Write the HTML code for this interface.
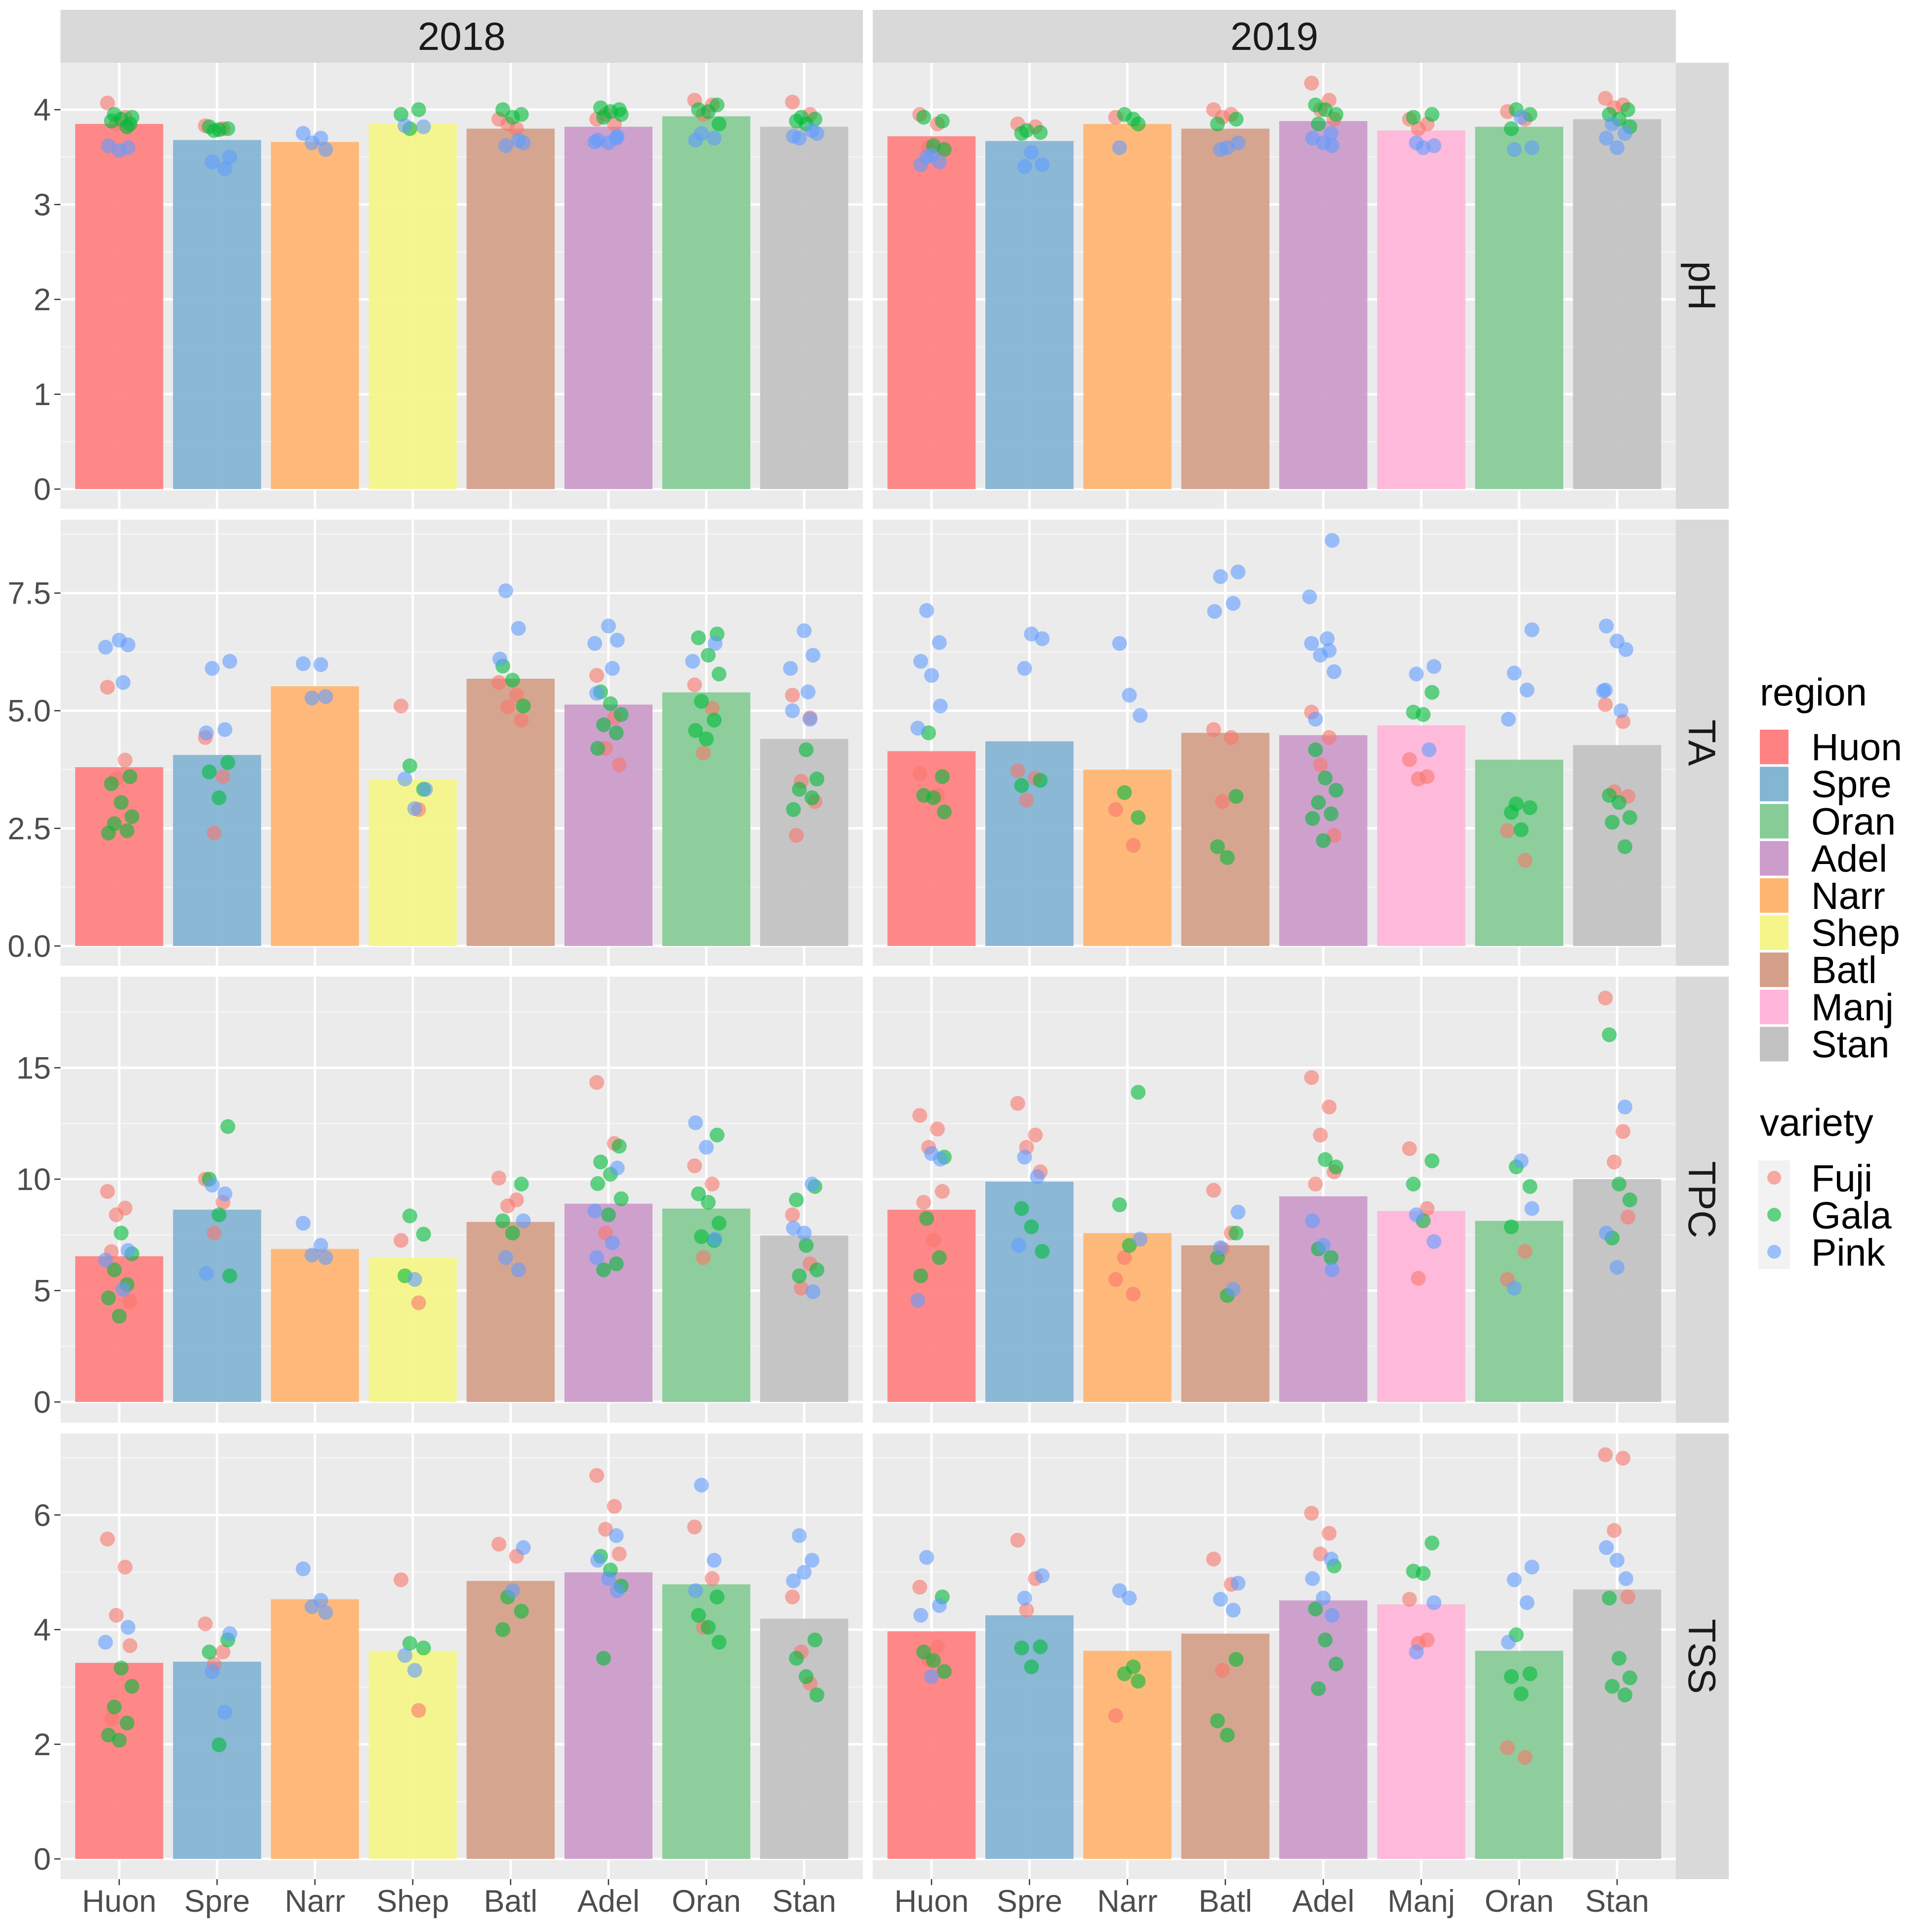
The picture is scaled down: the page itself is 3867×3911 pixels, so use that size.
<!DOCTYPE html>
<html><head><meta charset="utf-8"><style>
html,body{margin:0;padding:0;background:#fff}
svg{display:block;font-family:"Liberation Sans",Arial,sans-serif}
</style></head><body>
<svg id="chart" xmlns="http://www.w3.org/2000/svg" width="3867" height="3911" viewBox="0 0 3867 3911">
<rect x="0" y="0" width="3867" height="3911" fill="#ffffff"/>
<g id="panels"></g>
<g id="legend">
  <text x="3563" y="1428" font-size="78" fill="#000">region</text>
  <text x="3563" y="2299" font-size="78" fill="#000">variety</text>
  <rect x="3560" y="2349" width="64" height="220" fill="#f2f2f2"/>
</g>
</svg>
<script>
const years = ["2018", "2019"];
const metrics = ["pH", "TA", "TPC", "TSS"];
const regions2018 = ["Huon","Spre","Narr","Shep","Batl","Adel","Oran","Stan"];
const regions2019 = ["Huon","Spre","Narr","Batl","Adel","Manj","Oran","Stan"];
const legendRegions = ["Huon","Spre","Oran","Adel","Narr","Shep","Batl","Manj","Stan"];
const varieties = ["Fuji","Gala","Pink"];

const phBars2018 = [3.85,3.68,3.66,3.85,3.80,3.82,3.93,3.82];
const phBars2019 = [3.72,3.67,3.85,3.80,3.88,3.78,3.82,3.90];
const taBars2018 = [3.80,4.06,5.52,3.54,5.68,5.13,5.39,4.40];
const taBars2019 = [4.14,4.35,3.75,4.53,4.48,4.69,3.96,4.27];
const tpcBars2018 = [6.54,8.63,6.87,6.48,8.08,8.90,8.68,7.47];
const tpcBars2019 = [8.63,9.89,7.58,7.03,9.23,8.57,8.13,10.0];
const tssBars2018 = [3.42,3.44,4.53,3.63,4.85,5.00,4.79,4.19];
const tssBars2019 = [3.97,4.25,3.63,3.93,4.51,4.44,3.63,4.70];

const phPts2018 = [
 "F 4.07 3.92 3.85; G 3.85 3.88 3.9 3.92 3.95 3.82; P 3.62 3.57 3.6",
 "F 3.83 3.8; G 3.78 3.8 3.82 3.79; P 3.5 3.45 3.38",
 "P 3.75 3.7 3.65 3.58",
 "G 3.95 4.0 3.8; P 3.82 3.83",
 "F 3.9 3.8 3.85; G 3.95 4.0 3.92; P 3.65 3.62 3.68",
 "F 3.9 3.85 3.95; G 4.0 4.02 3.98 3.95 3.92; P 3.7 3.68 3.65 3.72 3.66",
 "F 4.1 4.05 3.95; G 4.05 4.0 3.98 3.85; P 3.75 3.7 3.68",
 "F 4.08 3.95; G 3.92 3.9 3.88 3.85; P 3.75 3.7 3.78 3.72"];
const phPts2019 = [
 "F 3.95 3.85 3.6; G 3.88 3.92 3.62 3.58; P 3.5 3.45 3.42 3.52",
 "F 3.85 3.82; G 3.78 3.76 3.75; P 3.55 3.42 3.4",
 "F 3.92; G 3.9 3.95 3.85; P 3.6",
 "F 4.0 3.95 3.92; G 3.9 3.85; P 3.6 3.65 3.58",
 "F 4.28 4.1 4.0 3.9; G 4.05 4.0 3.95 3.85; P 3.75 3.7 3.65 3.62",
 "F 3.9 3.85 3.8; G 3.95 3.92; P 3.6 3.62 3.65",
 "F 3.98 3.9; G 4.0 3.95 3.8; P 3.92 3.6 3.58",
 "F 4.12 4.05 4.02; G 4.0 3.95 3.9 3.82; P 3.85 3.75 3.7 3.6"];
const taPts2018 = [
 "F 5.5 3.95 3.55; G 3.6 3.45 3.05 2.75 2.6 2.45 2.4; P 6.5 6.4 6.35 5.6",
 "F 4.43 3.6 2.4; G 3.9 3.7 3.15; P 6.05 5.9 4.6 4.53",
 "P 6.0 5.98 5.27 5.3",
 "F 5.1 2.9; G 3.83 3.33; P 3.55 2.92 3.33",
 "F 5.6 5.33 5.08 4.8; G 5.95 5.65 5.1; P 7.55 6.75 6.1",
 "F 5.75 4.85 4.2 3.85; G 5.4 5.15 4.92 4.7 4.53 4.2; P 6.8 6.5 6.43 5.9 5.37",
 "F 5.55 5.05 4.1; G 6.63 6.55 6.18 5.78 5.2 4.8 4.58 4.4; P 6.43 6.05",
 "F 5.33 4.85 3.5 3.07 2.35; G 4.17 3.55 3.33 3.15 2.9; P 6.7 6.18 5.9 5.4 5.0 4.82"];
const taPts2019 = [
 "F 3.67 3.2; G 4.53 3.6 3.2 3.15 2.85; P 7.13 6.45 6.05 5.75 5.1 4.63",
 "F 3.72 3.57 3.1; G 3.52 3.41; P 6.63 6.53 5.9",
 "F 2.9 2.14; G 3.26 2.73; P 6.43 5.33 4.9",
 "F 4.6 4.43 3.07; G 3.18 2.11 1.88; P 7.95 7.85 7.28 7.11",
 "F 4.97 4.43 3.85 2.35; G 4.17 3.57 3.31 3.05 2.81 2.71 2.24; P 8.62 7.42 6.53 6.43 6.28 6.18 5.83 4.82",
 "F 3.96 3.6 3.55; G 5.39 4.97 4.92; P 5.94 5.78 4.17",
 "F 2.45 1.82; G 3.02 2.94 2.84 2.47; P 6.72 5.8 5.44 4.82",
 "F 5.13 4.77 3.28 3.18; G 3.2 3.05 2.73 2.63 2.11; P 6.8 6.48 6.3 5.42 5.0 5.44"];
const tpcPts2018 = [
 "F 9.45 8.7 8.4 4.5 6.75; G 7.58 6.65 5.93 5.27 4.67 3.85; P 6.8 6.37 5.05",
 "F 10.0 8.96 7.58; G 12.36 10.0 8.4 5.66; P 9.73 9.34 5.77",
 "P 8.02 7.03 6.59 6.48",
 "F 7.25 4.45; G 8.35 7.53 5.66; P 5.5",
 "F 10.05 9.07 8.8; G 9.78 8.13 7.58; P 8.13 6.48 5.93",
 "F 14.34 11.6 7.58; G 11.48 10.77 10.22 9.12 5.93 6.2 9.8 8.4; P 10.5 8.57 7.14 6.48",
 "F 10.6 9.78 6.48; G 11.98 9.34 8.96 8.02 7.42 7.25; P 12.53 11.43 7.31",
 "F 8.4 6.2 5.11; G 9.67 9.07 7.03 5.93 5.66; P 9.78 7.8 7.58 4.95"];
const tpcPts2019 = [
 "F 12.86 12.25 11.43 9.45 8.96 7.25; G 10.99 8.24 6.48 5.66; P 11.15 10.9 4.56",
 "F 13.4 11.98 11.43 10.33; G 8.68 7.86 6.76; P 10.99 10.11 7.03",
 "F 5.5 4.84 6.48; G 13.9 8.85 7.03; P 7.31",
 "F 9.5 7.58 6.87; G 7.58 6.48 4.78; P 8.52 6.92 5.05",
 "F 14.56 13.24 11.98 10.33 9.78; G 10.88 10.55 6.87 6.48; P 8.13 7.03 5.93",
 "F 11.37 8.68 5.55; G 10.82 9.78 8.13; P 7.2 8.4",
 "F 5.5 6.76; G 10.55 9.67 7.86; P 10.82 8.68 5.11",
 "F 18.13 12.14 10.77 8.3; G 16.48 9.78 9.07 7.36; P 13.24 7.58 6.04"];
const tssPts2018 = [
 "F 5.58 5.09 4.25 3.72 2.44; G 3.33 3.01 2.65 2.37 2.16 2.07; P 4.04 3.78",
 "F 4.1 3.61 3.4; G 3.82 3.61 1.99; P 3.93 3.27 2.56",
 "P 5.06 4.51 4.4 4.3",
 "F 4.87 2.59; G 3.76 3.68; P 3.55 3.29",
 "F 5.49 5.28; G 4.57 4.32 4.0; P 4.68 5.43",
 "F 6.69 6.15 5.75 5.32; G 5.28 5.04 4.76 3.5; P 5.64 5.21 4.89 4.68",
 "F 5.79 4.89 4.04; G 4.57 4.25 4.04 3.78; P 6.52 5.21 4.68",
 "F 4.57 3.06 3.61; G 3.82 3.5 3.18 2.86; P 5.64 5.21 4.85 5.0"];
const tssPts2019 = [
 "F 4.74 3.7 3.48; G 4.57 3.61 3.46 3.27; P 5.26 4.42 4.25 3.18",
 "F 5.56 4.89 4.34; G 3.7 3.68 3.35; P 4.94 4.55",
 "F 2.5; G 3.35 3.23 3.1; P 4.68 4.55",
 "F 5.23 4.79 3.29; G 3.48 2.41 2.16; P 4.81 4.53 4.34",
 "F 6.03 5.68 5.32; G 5.11 4.36 3.82 3.4 2.97; P 5.23 4.89 4.55 4.25",
 "F 4.53 3.82 3.76; G 5.51 5.02 4.98; P 4.47 3.61",
 "F 1.94 1.77; G 3.91 3.23 3.18 2.88; P 5.09 4.87 4.47 3.78",
 "F 7.05 6.99 5.73 4.57; G 4.55 3.5 3.16 3.01 2.86; P 5.43 5.21 4.89"];

const phTicks = ["0","1","2","3","4"];
const taTicks = ["0.0","2.5","5.0","7.5"];
const tpcTicks = ["0","5","10","15"];
const tssTicks = ["0","2","4","6"];

const regionColor = {Huon:"#ff8282",Spre:"#84b5d3",Oran:"#87cc97",Adel:"#cc9ccb",Narr:"#ffb673",Shep:"#f5f58a",Batl:"#d4a08a",Manj:"#ffb6da",Stan:"#c2c2c2"};
const varietyColor = {F:"#F8766D",G:"#00BA38",P:"#619CFF"};

const NS = "http://www.w3.org/2000/svg";
function mk(tag, attrs, parent){const e=document.createElementNS(NS,tag);for(const k in attrs)e.setAttribute(k,attrs[k]);parent.appendChild(e);return e;}

const cols = [{x0:122.5,x1:1747},{x0:1767,x1:3393}];
const rows = [
 {y0:127,y1:1030,lo:-0.208,hi:4.495,minor:0.5,ticks:phTicks,bars:[phBars2018,phBars2019],pts:[phPts2018,phPts2019]},
 {y0:1052,y1:1955,lo:-0.42,hi:9.06,minor:1.25,ticks:taTicks,bars:[taBars2018,taBars2019],pts:[taPts2018,taPts2019]},
 {y0:1977,y1:2880,lo:-0.93,hi:19.09,minor:2.5,ticks:tpcTicks,bars:[tpcBars2018,tpcBars2019],pts:[tpcPts2018,tpcPts2019]},
 {y0:2902,y1:3804,lo:-0.353,hi:7.42,minor:1,ticks:tssTicks,bars:[tssBars2018,tssBars2019],pts:[tssPts2018,tssPts2019]}];
const jit = [-0.12,0.06,-0.03,0.11,-0.08,0.02,0.13,-0.05,0.08,-0.11,0.0,0.09,-0.14,0.04];

const root = document.getElementById("panels");

cols.forEach((c,ci)=>{
  const s = mk("rect",{x:c.x0,y:20,width:c.x1-c.x0,height:107,fill:"#d9d9d9"},root);
  
  
  const t = mk("text",{x:(c.x0+c.x1)/2,y:101,"font-size":80,"text-anchor":"middle",fill:"#1a1a1a"},root);
  t.textContent = years[ci];
  
  
});

rows.forEach((r,ri)=>{
  const yS = v => r.y1 - (v - r.lo)/(r.hi - r.lo)*(r.y1 - r.y0);
  const rs = mk("rect",{x:3393,y:r.y0,width:107,height:r.y1-r.y0,fill:"#d9d9d9"},root);
  
  
  const cy=(r.y0+r.y1)/2;
  const rt = mk("text",{x:3446,y:cy,"font-size":78,"text-anchor":"middle","dominant-baseline":"central",fill:"#1a1a1a",transform:"rotate(90 3446 "+cy+")"},root);
  rt.textContent = metrics[ri];
  
  
  r.ticks.forEach(tk=>{
    const v=parseFloat(tk), y=yS(v);
    const tl = mk("text",{x:103,y:y+22,"font-size":63,"text-anchor":"end",fill:"#4d4d4d"},root);
    tl.textContent = tk;
    
    
    const tm = mk("line",{x1:110,x2:122.5,y1:y,y2:y,stroke:"#333","stroke-width":2.5},root);
    
    
  });
  cols.forEach((c,ci)=>{
    const cats = ci===0?regions2018:regions2019;
    const unit=(c.x1-c.x0)/8.2;
    const xS = i => c.x0 + (i+0.6)*unit;
    const g = mk("g",{},root);
    
    
    mk("rect",{x:c.x0,y:r.y0,width:c.x1-c.x0,height:r.y1-r.y0,fill:"#ebebeb"},g);
    for(let v=Math.ceil(r.lo/r.minor)*r.minor; v<=r.hi; v+=r.minor){
      const y=yS(v);
      const major = Math.abs(v/(r.minor*2)-Math.round(v/(r.minor*2)))<1e-6;
      mk("line",{x1:c.x0,x2:c.x1,y1:y,y2:y,stroke:major?"#ffffff":"#f5f5f5","stroke-width":major?5:2.5},g);
    }
    cats.forEach((cat,i)=>{
      mk("line",{x1:xS(i),x2:xS(i),y1:r.y0,y2:r.y1,stroke:"#ffffff","stroke-width":5},g);
    });
    cats.forEach((cat,i)=>{
      const v=r.bars[ci][i];
      const b = mk("rect",{x:xS(i)-0.45*unit,y:yS(v),width:0.9*unit,height:yS(0)-yS(v),fill:regionColor[cat],"fill-opacity":0.94},g);
      
      
    });
    cats.forEach((cat,i)=>{
      let k=0;
      r.pts[ci][i].split(";").forEach(part=>{
        const toks=part.trim().split(/\s+/);
        const vk=toks[0];
        toks.slice(1).forEach(val=>{
          const v=parseFloat(val);
          const p = mk("circle",{cx:xS(i)+jit[k%jit.length]*unit,cy:yS(v),r:15,fill:varietyColor[vk],"fill-opacity":0.6},g);
          
          
          k++;
        });
      });
    });
    if(ri===3){
      cats.forEach((cat,i)=>{
        const tm = mk("line",{x1:xS(i),x2:xS(i),y1:r.y1,y2:r.y1+12,stroke:"#333","stroke-width":2.5},root);
        
        
        const t = mk("text",{x:xS(i),y:3870,"font-size":63,"text-anchor":"middle",fill:"#4d4d4d"},root);
        t.textContent = cat;
        
        
      });
    }
  });
});

const lg = document.getElementById("legend");
legendRegions.forEach((reg,i)=>{
  const top=1477+i*75.2;
  const k = mk("rect",{x:3563,y:top,width:58,height:70,fill:regionColor[reg]},lg);
  
  
  const t = mk("text",{x:3667,y:top+62,"font-size":77,fill:"#000"},lg);
  t.textContent = reg;
  
  
});
["F","G","P"].forEach((vk,i)=>{
  const cy=2384+i*75;
  const c = mk("circle",{cx:3592,cy:cy,r:14,fill:varietyColor[vk],"fill-opacity":0.6},lg);
  
  
  const t = mk("text",{x:3667,y:cy+28,"font-size":77,fill:"#000"},lg);
  t.textContent = varieties[i];
  
  
});
</script>
</body></html>
